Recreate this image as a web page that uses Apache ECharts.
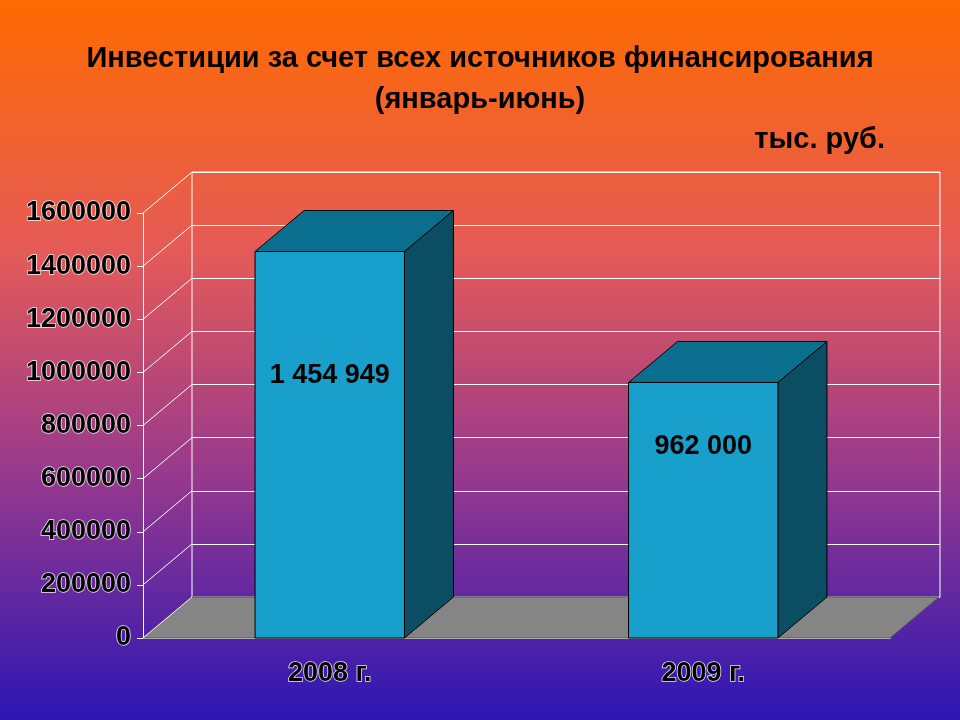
<!DOCTYPE html>
<html><head><meta charset="utf-8">
<script src="https://cdn.jsdelivr.net/npm/echarts@6/dist/echarts.min.js"></script>
<style>html,body{margin:0;padding:0}#c{width:960px;height:720px}</style>
</head><body><div id="c"></div>
<script>
const categories = ['2008 г.', '2009 г.'];
const values = [1454949, 962000];
const valueLabels = ['1 454 949', '962 000'];
const yTicks = [0, 200000, 400000, 600000, 800000, 1000000, 1200000, 1400000, 1600000];

const DX = 49, DY = -41;
const chart = echarts.init(document.getElementById('c'));
const txt = {fontFamily:'Liberation Sans, Arial', fontWeight:'bold', color:'#000', textBorderColor:'rgba(255,255,255,0.9)', textBorderWidth:1.5};
const ttl = {fontFamily:'Liberation Sans, Arial',fontWeight:'bold',fontSize:29,lineHeight:41,color:'#000',textShadowColor:'rgba(90,90,90,0.6)',textShadowOffsetX:2,textShadowOffsetY:2,textShadowBlur:0};

chart.setOption({
  animation:false,
  backgroundColor:{type:'linear',x:0,y:0,x2:0,y2:1,colorStops:[
    {offset:0,color:'#ff6a00'},{offset:0.35,color:'#e45a58'},{offset:0.65,color:'#9a3a8c'},{offset:1,color:'#2c16b4'}]},
  title:[
    {text:'Инвестиции за счет всех источников финансирования\n(январь-июнь)',left:'center',top:33,textStyle:ttl},
    {text:'тыс. руб.',right:70,top:114,textStyle:ttl}
  ],
  grid:[
    {left:143,right:70,top:213,bottom:82},
    {left:192,right:20,top:172,bottom:123,show:true,borderColor:'#fff',borderWidth:1}
  ],
  xAxis:[
    {gridIndex:0,type:'category',data:categories,axisLine:{lineStyle:{color:'#fff',width:1}},
     axisTick:{lineStyle:{color:'#fff'},length:6},axisLabel:Object.assign({fontSize:27,margin:22},txt)},
    {gridIndex:1,type:'category',data:categories,show:false}
  ],
  yAxis:[
    {gridIndex:0,type:'value',min:0,max:1600000,interval:200000,splitLine:{show:false},
     axisLine:{show:true,lineStyle:{color:'#fff'}},axisTick:{show:true,length:6,lineStyle:{color:'#fff'}},
     axisLabel:Object.assign({fontSize:27,margin:12,formatter:v=>String(v)},txt)},
    {gridIndex:1,type:'value',min:0,max:1600000,interval:200000,axisLabel:{show:false},axisLine:{show:false},axisTick:{show:false},
     splitLine:{lineStyle:{color:'#fff',width:1}}}
  ],
  series:[
    {type:'custom',xAxisIndex:0,yAxisIndex:0,z:1,data:[0],renderItem:function(p,api){
      const cs=p.coordSys;const y=cs.y+cs.height,x0=cs.x,x1=cs.x+cs.width;
      return {type:'polygon',shape:{points:[[x0,y],[x1,y],[x1+DX,y+DY],[x0+DX,y+DY]]},style:{fill:'#858585',stroke:'#555',lineWidth:1}};
    }},
    {type:'custom',xAxisIndex:0,yAxisIndex:0,z:2,data:yTicks.map(v=>[0,v]),renderItem:function(p,api){
      const cs=p.coordSys;const y=api.coord([0,api.value(1)])[1];
      return {type:'line',shape:{x1:cs.x,y1:y,x2:cs.x+DX,y2:y+DY},style:{stroke:'#fff',lineWidth:1}};
    }},
    {type:'custom',xAxisIndex:0,yAxisIndex:0,z:5,data:values.map((v,i)=>[i,v]),renderItem:function(p,api){
      const c=api.coord([api.value(0),api.value(1)]);const b=api.coord([api.value(0),0]);
      const w=api.size([1,0])[0]*0.4;const l=c[0]-w/2,r=c[0]+w/2,t=c[1],bt=b[1];
      return {type:'group',children:[
        {type:'polygon',shape:{points:[[r,t],[r+DX,t+DY],[r+DX,bt+DY],[r,bt]]},style:{fill:'#0b4d62',stroke:'#000',lineWidth:1}},
        {type:'polygon',shape:{points:[[l,t],[l+DX,t+DY],[r+DX,t+DY],[r,t]]},style:{fill:'#0a6f8e',stroke:'#000',lineWidth:1}},
        {type:'rect',shape:{x:l,y:t,width:w,height:bt-t},style:{fill:'#189fcc',stroke:'#000',lineWidth:1}},
        {type:'text',x:c[0],y:t+(bt-t)*(p.dataIndex===0?0.32:0.25),style:{text:valueLabels[p.dataIndex],align:'center',verticalAlign:'middle',
          font:'bold 27px Liberation Sans, Arial',fill:'#000'}}
      ]};
    }}
  ]
});
</script></body></html>
